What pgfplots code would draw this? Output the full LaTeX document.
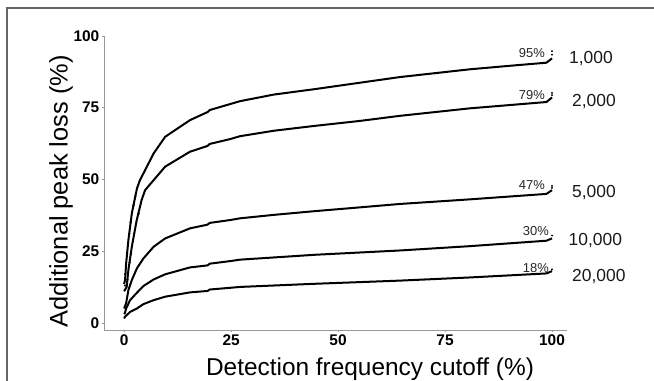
\documentclass[border=0pt]{standalone}
\usepackage{fontspec}
\setmainfont{Liberation Sans}
\usepackage{pgfplots}
\pgfplotsset{compat=1.18}
\begin{document}
\begin{tikzpicture}
\useasboundingbox (0,0) rectangle (654bp,381bp);
\draw[color=black!60, line width=1.3bp] (7bp,-2bp) -- (7bp,373bp) -- (656bp,373bp);
\begin{axis}[at={(104bp,51bp)}, anchor=south west, scale only axis,
  width=463bp, height=294.3bp,
  xmin=-4.7, xmax=103.5, ymin=-2.5, ymax=100,
  axis x line*=bottom, axis y line*=left,
  axis line style={black!40, line width=0.8bp},
  xtick={0,25,50,75,100}, ytick={0,25,50,75,100},
  tick style={black!40}, major tick length=2bp, tick align=outside,
  ticklabel style={font=\fontsize{15.5}{15.5}\selectfont\bfseries},
  xticklabel style={inner sep=3bp},
  yticklabel style={inner sep=2.5bp},
  /pgf/number format/assume math mode=true,
  clip=false]
\addplot[black, line width=2bp, line join=round] coordinates {
(0,13.5) (0.23,15) (0.47,20.7) (1.0,28.8) (1.8,38.1) (3.0,46.8) (3.7,49.7) (4.5,52) (6.9,59) (9.6,64.8) (15.4,70.6) (19.5,73.4) (20,74.1) (24.8,76.2) (27.1,77.2) (35,79.5) (44.6,81.4) (55,83.6) (64.5,85.6) (80.8,88.3) (90,89.5) (98.7,90.6) (100,92.1)};
\addplot[black, line width=2bp, line join=round] coordinates {
(0,11) (0.6,12.5) (1.0,18.4) (1.8,26.5) (2.95,35.8) (4.1,42.8) (4.9,46.2) (6.9,49.7) (9.6,54.4) (15.4,59.6) (19.5,61.6) (20,62.3) (24.8,64.0) (27.1,65) (35,66.9) (44.6,68.6) (55,70.3) (64.5,72.1) (80.8,74.7) (98.7,76.9) (100,78.5)};
\addplot[black, line width=2bp, line join=round] coordinates {
(0,5) (0.47,6.8) (1.0,11.4) (1.8,14.9) (3.0,19.0) (4.5,22.4) (6.9,26.5) (9.6,29.4) (15.4,32.9) (19.5,34.2) (20,34.8) (24.8,35.8) (27.1,36.4) (35,37.6) (44.6,38.9) (55,40.2) (64.5,41.4) (80.8,43.0) (98.7,44.9) (100,46.2)};
\addplot[black, line width=2bp, line join=round] coordinates {
(0,3) (0.2,3.5) (0.47,5.0) (1.4,7.9) (3,10.5) (4.5,12.8) (6.9,15.1) (9.6,16.9) (15.4,19.3) (19.5,20.0) (20,20.6) (24.8,21.5) (27.1,22.0) (44.6,23.7) (64.5,25.2) (80.8,26.7) (98.7,28.6) (100,29.4)};
\addplot[black, line width=2bp, line join=round] coordinates {
(0,1.5) (0.2,2.1) (1.4,3.8) (3,5.0) (4.5,6.5) (6.9,7.9) (9.6,9.1) (15.4,10.6) (19.5,11.1) (20,11.6) (24.8,12.2) (27.1,12.5) (44.6,13.6) (64.5,14.7) (80.8,15.8) (98.7,17.2) (100,18.0)};
\addplot[only marks, mark=*, mark size=0.7bp, black] coordinates {
(100,93.4) (100,94.6) (100,79.3) (100,80.1) (100,47.0) (100,47.7) (100,30.4) (100,18.6)};
\addplot[only marks, mark=*, mark size=0.9bp, black] coordinates {
(0.3,17) (0.7,24) (1.2,31) (1.5,35) (2.2,41) (2.6,44) (0.8,15) (1.3,21) (1.6,24) (2.3,31) (3.4,38) (0.2,13)};
\end{axis}
\begin{scope}[every node/.style={inner sep=0pt}]
\node[anchor=base, font=\fontsize{24.5}{24.5}\selectfont] at (370bp,5.7bp) {Detection frequency cutoff (\%)};
\node[rotate=90, anchor=base, font=\fontsize{25.5}{25.5}\selectfont] at (67.5bp,189.5bp) {Additional peak loss (\%)};
\begin{scope}[every node/.append style={anchor=base west, font=\fontsize{17.5}{17.5}\selectfont, text=black!90}]
\node at (569bp,317.7bp) {1,000};
\node at (572bp,274.3bp) {2,000};
\node at (572bp,183.7bp) {5,000};
\node at (568.5bp,135bp) {10,000};
\node at (572bp,99.3bp) {20,000};
\end{scope}
\begin{scope}[every node/.append style={anchor=base east, font=\fontsize{13}{13}\selectfont, text=black!85}]
\node at (545bp,323.7bp) {95\%};
\node at (545bp,281.7bp) {79\%};
\node at (545bp,191bp) {47\%};
\node at (549bp,145.3bp) {30\%};
\node at (549bp,108.3bp) {18\%};
\end{scope}
\end{scope}
\end{tikzpicture}
\end{document}
